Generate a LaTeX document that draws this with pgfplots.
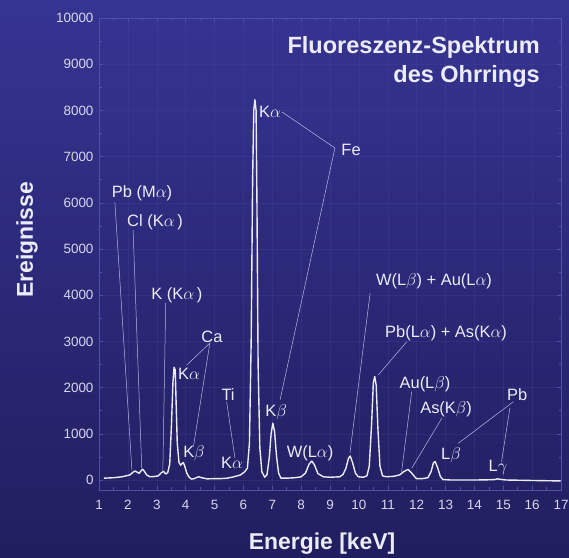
\documentclass[border=0pt]{standalone}
\usepackage{pgfplots}
\pgfplotsset{compat=1.18}
\usepackage{fontspec}
\setmainfont{Liberation Sans}
\definecolor{bgtop}{RGB}{54,52,146}
\definecolor{bgbot}{RGB}{33,30,95}
\definecolor{txt}{RGB}{236,236,246}
\definecolor{tickc}{RGB}{215,215,235}
\definecolor{framec}{RGB}{80,80,168}
\definecolor{lead}{RGB}{185,185,228}
\tikzset{
  lab/.style={text=txt, font=\fontsize{16.5}{19}\selectfont, inner sep=0pt, anchor=center},
  ld/.style={lead, line width=0.5pt},
}
\begin{document}
\begin{tikzpicture}
\shade[top color=bgtop, bottom color=bgbot] (0,0) rectangle (569bp,558bp);
\begin{axis}[
  at={(99bp,68bp)}, anchor=south west, scale only axis,
  width=462bp, height=472bp,
  xmin=1, xmax=17, ymin=-216, ymax=10000,
  axis line style={framec, line width=0.6pt},
  xtick={1,...,17}, ytick={0,1000,...,10000},
  scaled y ticks=false,
  minor x tick num=1, minor y tick num=1,
  tick style={framec, line width=0.5pt},
  major tick length=4bp, minor tick length=2.5bp,
  grid=major, grid style={framec, line width=0.3pt, opacity=0.22},
  ticklabel style={text=tickc, font=\fontsize{13.5}{16}\selectfont},
  xticklabel style={yshift=-7bp},
  yticklabel style={xshift=-2bp},
  /pgf/number format/assume math mode=true,
  /pgf/number format/1000 sep={},
  xlabel={Energie [keV]}, ylabel={Ereignisse},
  label style={text=txt, font=\bfseries\fontsize{23}{27}\selectfont},
  xlabel style={at={(axis description cs:0.483,-0.114)}, anchor=center},
  ylabel style={at={(axis description cs:-0.156,0.53)}, anchor=center},
]
\addplot[color=txt, line width=1.4pt, line join=round] coordinates {
(1.17,40)(1.5,50)(1.8,70)(2.07,110)(2.18,170)(2.25,195)(2.32,170)(2.39,145)
(2.46,200)(2.51,235)(2.57,190)(2.65,110)(2.76,70)(2.9,75)(3.05,90)(3.16,160)
(3.24,185)(3.31,130)(3.38,160)(3.45,350)(3.51,1200)(3.56,2100)(3.60,2440)
(3.64,2380)(3.67,1700)(3.71,800)(3.77,380)(3.83,320)(3.88,360)(3.92,380)
(3.97,300)(4.04,150)(4.11,70)(4.2,20)(4.3,30)(4.4,60)(4.46,70)(4.55,50)
(4.75,25)(5.0,30)(5.2,30)(5.44,40)(5.67,70)(5.9,110)(6.05,180)(6.14,260)
(6.21,800)(6.27,3000)(6.32,6500)(6.36,8000)(6.40,8230)(6.44,8000)(6.47,6000)
(6.51,2500)(6.57,700)(6.64,180)(6.74,60)(6.82,120)(6.90,500)(6.96,1000)
(7.02,1230)(7.08,1050)(7.15,500)(7.22,150)(7.30,40)(7.5,40)(7.8,50)(8.0,70)
(8.15,150)(8.28,350)(8.37,410)(8.46,330)(8.58,140)(8.77,70)(9.0,60)(9.34,70)
(9.45,120)(9.55,250)(9.64,470)(9.70,520)(9.78,380)(9.88,150)(9.98,70)
(10.15,60)(10.28,90)(10.36,300)(10.44,1200)(10.50,2100)(10.55,2240)
(10.60,2050)(10.66,1100)(10.73,300)(10.82,90)(10.95,70)(11.2,80)(11.41,110)
(11.55,180)(11.7,230)(11.8,170)(11.99,30)(12.2,30)(12.39,50)(12.5,180)
(12.58,370)(12.64,400)(12.72,280)(12.82,80)(12.91,10)(13.2,0)(13.6,0)
(14.0,0)(14.5,5)(14.7,10)(14.8,25)(14.9,15)(15.1,0)(15.6,-5)(16.0,-10)
(16.5,-15)(16.99,-20)
};
% leader lines
\draw[ld] (axis cs:1.55,6017) -- (axis cs:2.14,216);
\draw[ld] (axis cs:2.18,5411) -- (axis cs:2.48,260);
\draw[ld] (axis cs:3.31,3831) -- (axis cs:3.21,173);
\draw[ld] (axis cs:4.04,2489) -- (axis cs:4.84,2965) -- (axis cs:4.27,721);
\draw[ld] (axis cs:5.42,1695) -- (axis cs:5.71,470);
\draw[ld] (axis cs:7.34,7965) -- (axis cs:9.17,7186) -- (axis cs:7.27,1732);
\draw[ld] (axis cs:10.39,4048) -- (axis cs:9.69,584);
\draw[ld] (axis cs:11.66,2994) -- (axis cs:10.67,2273);
\draw[ld] (axis cs:11.83,1911) -- (axis cs:11.48,180);
\draw[ld] (axis cs:12.87,1335) -- (axis cs:11.83,253);
\draw[ld] (axis cs:13.44,794) -- (axis cs:15.35,1695);
\draw[ld] (axis cs:15.23,1558) -- (axis cs:14.94,396);
% labels
\node[lab] at (axis cs:2.49,6212) {Pb (M$\alpha$)};
\node[lab] at (axis cs:2.94,5584) {Cl (K$\alpha$\,)};
\node[lab] at (axis cs:3.70,4004) {K (K$\alpha$\,)};
\node[lab] at (axis cs:4.91,3095) {Ca};
\node[lab] at (axis cs:4.12,2294) {K$\alpha$};
\node[lab] at (axis cs:4.29,584) {K$\beta$};
\node[lab] at (axis cs:5.47,1840) {Ti};
\node[lab] at (axis cs:5.61,368) {K$\alpha$};
\node[lab] at (axis cs:6.92,7965) {K$\alpha$};
\node[lab] at (axis cs:9.73,7143) {Fe};
\node[lab] at (axis cs:7.13,1472) {K$\beta$};
\node[lab] at (axis cs:8.31,584) {W(L$\alpha$)};
\node[lab] at (axis cs:12.6,4307) {W(L$\beta$) + Au(L$\alpha$)};
\node[lab] at (axis cs:13.02,3182) {Pb(L$\alpha$) + As(K$\alpha$)};
\node[lab] at (axis cs:12.29,2078) {Au(L$\beta$)};
\node[lab] at (axis cs:13.02,1537) {As(K$\beta$)};
\node[lab] at (axis cs:15.48,1840) {Pb};
\node[lab] at (axis cs:13.19,541) {L$\beta$};
\node[lab] at (axis cs:14.82,260) {L$\gamma$};
\node[text=txt, font=\bfseries\fontsize{23.6}{28.5}\selectfont, align=right, inner sep=0pt, anchor=north east]
  at (axis cs:16.27,9600) {Fluoreszenz-Spektrum\\des Ohrrings};
\end{axis}
\pgfresetboundingbox
\path[use as bounding box] (0,0) rectangle (569bp,558bp);
\end{tikzpicture}
\end{document}
